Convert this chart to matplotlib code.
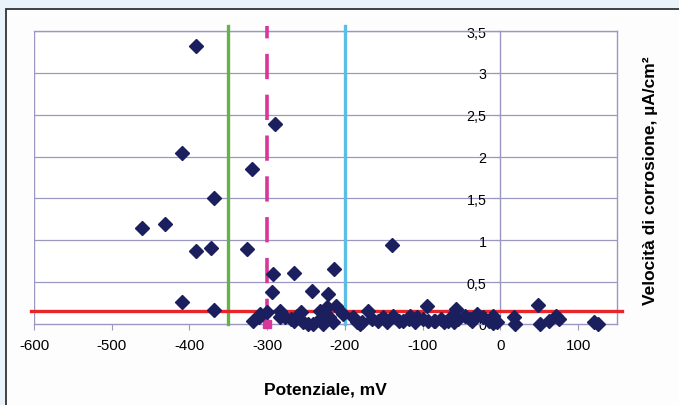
"""
Corrosion rate vs potential scatter, with threshold lines.
"""
import matplotlib
matplotlib.use("Agg")
import matplotlib.pyplot as plt
from matplotlib.patches import Rectangle

# potential (mV) and corrosion rate (uA/cm2)
potential = [-392, -290, -409, -319, -369, -461, -432, -392, -372, -326,
             -292, -265, -214, -409, -294, -243, -222, -368, -139, -94,
             48, -170, -57,
             -309, -300, -311, -283, -284, -277, -257, -266, -254, -232,
             -223, -212, -232, -221, -241, -215, -203, -190, -184, -165,
             -158, -178, -228, -248, -270, -262, -318,
             -151, -138, -125, -116, -107, -99, -86, -77, -68, -54,
             -45, -39, -30, -22, -9, -4, -9, 17, 19, 51,
             62, 71, 75, 120, 125, -73, -93, -180, -118, -84,
             -64, -36, -146, -130, -110, -60, -15]
rate = [3.32, 2.39, 2.04, 1.85, 1.50, 1.15, 1.20, 0.87, 0.91, 0.90,
        0.60, 0.61, 0.66, 0.26, 0.38, 0.39, 0.36, 0.17, 0.94, 0.22,
        0.23, 0.16, 0.18,
        0.12, 0.14, 0.08, 0.16, 0.08, 0.08, 0.14, 0.04, 0.02, 0.16,
        0.20, 0.22, 0.06, 0.08, 0.00, 0.02, 0.12, 0.08, 0.02, 0.06,
        0.04, 0.02, 0.00, 0.00, 0.06, 0.10, 0.04,
        0.08, 0.10, 0.04, 0.10, 0.08, 0.06, 0.04, 0.06, 0.04, 0.06,
        0.10, 0.06, 0.12, 0.08, 0.10, 0.02, 0.01, 0.08, 0.00, 0.00,
        0.04, 0.10, 0.06, 0.02, 0.00, 0.02, 0.04, 0.00, 0.06, 0.04,
        0.08, 0.04, 0.02, 0.03, 0.02, 0.02, 0.04]

x_ticks = [-600, -500, -400, -300, -200, -100, 0, 100]
y_ticks = [0, 0.5, 1, 1.5, 2, 2.5, 3, 3.5]
y_labels = ["0", "0,5", "1", "1,5", "2", "2,5", "3", "3,5"]

threshold_rate = 0.155
green_pot = -350
magenta_pot = -300
cyan_pot = -200

plt.rcParams['font.family'] = ['Liberation Sans', 'DejaVu Sans']

fig = plt.figure(figsize=(6.79, 4.06), dpi=100)
fig.patch.set_facecolor('#eaf2fa')
# white panel with dark border
fig.patches.append(Rectangle((6 / 679, -0.1), 1.2, 1 - 10 / 406 + 0.1,
                             transform=fig.transFigure, facecolor='#fdfdfd',
                             edgecolor='#333333', linewidth=1.3, zorder=-5))

ax = fig.add_axes([34 / 679, 1 - 325 / 406, (617 - 34) / 679, (325 - 32) / 406])
ax.set_facecolor('white')
grid_col = '#9a98c0'

ax.set_xlim(-600, 150)
ax.set_ylim(0, 3.5)

for s in ['top', 'right', 'bottom']:
    ax.spines[s].set_color(grid_col)
    ax.spines[s].set_linewidth(1.0)
ax.spines['left'].set_position(('data', 0))
ax.spines['left'].set_color(grid_col)
ax.spines['left'].set_linewidth(1.0)
ax.axvline(-600, color=grid_col, lw=1.0, zorder=1)

for yv in y_ticks[1:]:
    ax.axhline(yv, color=grid_col, lw=0.9, zorder=1)

ax.set_xticks(x_ticks)
ax.set_xticklabels([str(v) for v in x_ticks])
ax.set_yticks(y_ticks)
ax.set_yticklabels(y_labels)
ax.tick_params(axis='x', length=4, color=grid_col, labelsize=10.8, pad=6)
ax.tick_params(axis='y', length=4, color=grid_col, labelsize=10.3, pad=6)

# vertical reference lines
ax.plot([green_pot, green_pot], [0, 3.56], color='#62b446', lw=2.4,
        clip_on=False, zorder=3)
ax.plot([cyan_pot, cyan_pot], [0, 3.56], color='#5cbde6', lw=2.4,
        clip_on=False, zorder=3)
ax.plot([magenta_pot, magenta_pot], [0, 3.56], color='#d8379a', lw=2.6,
        dashes=(7, 4.3), clip_on=False, zorder=3)
ax.plot([magenta_pot], [0], marker='s', ms=6, color='#d8379a',
        clip_on=False, zorder=3)

# threshold line
ax.plot([-604, 157], [threshold_rate, threshold_rate], color='#e8262a',
        lw=2.4, clip_on=False, zorder=4)

ax.plot(potential, rate, linestyle='none', marker='D', ms=7,
        color='#1b1f5e', clip_on=False, zorder=5)

fig.text(325 / 679, 1 - 390 / 406, "Potenziale, mV", ha='center', va='center',
         fontsize=12.5, fontweight='bold')
fig.text(651 / 679, 1 - 181 / 406, "Velocità di corrosione, µA/cm²",
         ha='center', va='center', rotation=90, fontsize=12.5, fontweight='bold')

fig.savefig("out.png", dpi=100, facecolor=fig.get_facecolor())
